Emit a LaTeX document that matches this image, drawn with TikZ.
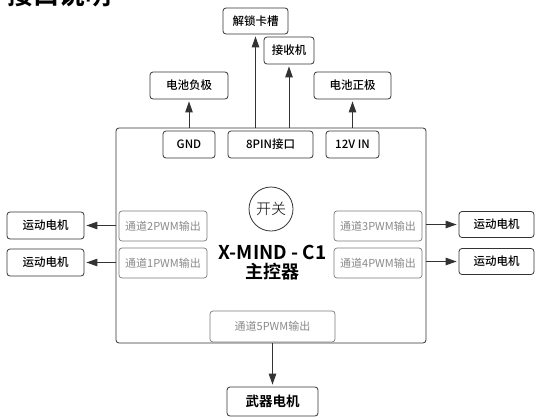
\documentclass[tikz,border=0pt]{standalone}
\usepackage{fontspec}
\setmainfont{Noto Sans CJK SC}[BoldFont={Noto Sans CJK SC Bold}]
\newfontface\medfont{Noto Sans CJK SC Medium}
\newfontface\lightfont{Noto Sans CJK SC Light}
\usetikzlibrary{arrows.meta}
\definecolor{ink}{HTML}{333333}
\definecolor{pwmgray}{HTML}{8A8A8A}
\definecolor{pwmline}{HTML}{7A7A7A}
\tikzset{
  box/.style={draw=ink, line width=0.8pt, rounded corners=3pt, fill=white, text=black,
    inner sep=0pt, font=\fontsize{11.5}{12}\selectfont\medfont},
  pwm/.style={draw=pwmline, line width=0.7pt, rounded corners=3pt, fill=white, text=pwmgray,
    inner sep=0pt, font=\fontsize{11}{12}\selectfont},
  arr/.style={draw=ink, line width=1pt, -{Triangle[length=11pt,width=7.5pt]}, shorten >=2pt},
}
\begin{document}
\begin{tikzpicture}[x=1pt,y=-1pt]
\useasboundingbox (0,0) rectangle (535,418);
% title (cut off at top, as in the reference)
\node[anchor=base west, inner sep=0pt, font=\fontsize{26}{28}\selectfont\bfseries] (title) at (7,4) {接口说明};
% main board
\node[draw=ink, line width=0.8pt, rounded corners=3pt, minimum width=310pt, minimum height=215pt, inner sep=0pt] (main) at (271,235.5) {};
% connectors on top edge
\node[box, minimum width=52pt, minimum height=27pt] (gnd) at (189,144.5) {GND};
\node[box, minimum width=85pt, minimum height=27pt] (pin8) at (270.5,144.5) {8PIN接口};
\node[box, minimum width=53pt, minimum height=27pt] (v12) at (352.5,144.5) {12V IN};
% top targets
\node[box, minimum width=78pt, minimum height=27pt] (neg) at (189,85.5) {电池负极};
\node[box, minimum width=65pt, minimum height=26pt] (unlock) at (255.5,21) {解锁卡槽};
\node[box, minimum width=50pt, minimum height=27pt] (recv) at (289,50.5) {接收机};
\node[box, minimum width=77pt, minimum height=27pt] (pos) at (352.5,85.5) {电池正极};
% PWM channels
\node[pwm, minimum width=88pt, minimum height=30pt] (ch2) at (163,226) {通道2PWM输出};
\node[pwm, minimum width=88pt, minimum height=30pt] (ch1) at (163,263) {通道1PWM输出};
\node[pwm, minimum width=88pt, minimum height=30pt] (ch3) at (378,226) {通道3PWM输出};
\node[pwm, minimum width=88pt, minimum height=30pt] (ch4) at (378,263) {通道4PWM输出};
\node[pwm, minimum width=125pt, minimum height=31pt] (ch5) at (272.5,326.5) {通道5PWM输出};
% motors
\node[box, minimum width=77pt, minimum height=27pt] (m2) at (45.5,225.5) {运动电机};
\node[box, minimum width=77pt, minimum height=27pt] (m1) at (45.5,262.5) {运动电机};
\node[box, minimum width=75pt, minimum height=26pt] (m3) at (496.5,224.5) {运动电机};
\node[box, minimum width=75pt, minimum height=26pt] (m4) at (496.5,261.5) {运动电机};
\node[box, minimum width=91pt, minimum height=29pt, font=\fontsize{13.5}{14}\selectfont\bfseries] (weapon) at (272.5,401.5) {武器电机};
% centre
\node[circle, draw=ink, line width=0.8pt, minimum size=44pt, inner sep=0pt, font=\fontsize{15}{16}\selectfont\lightfont] (sw) at (271,209) {开关};
\node[inner sep=0pt, font=\fontsize{19}{20}\selectfont\bfseries] (name) at (272.5,252) {X-MIND - C1};
\node[inner sep=0pt, font=\fontsize{18}{20}\selectfont\bfseries] (ctrl) at (272.5,272) {主控器};
% arrows
\draw[arr] (gnd.north |- main.north) -- (neg.south);
\draw[arr] (unlock.south |- main.north) -- (unlock.south);
\draw[arr] (recv.south |- main.north) -- (recv.south);
\draw[arr] (v12.north |- main.north) -- (pos.south);
\draw[arr] (main.west |- m2) -- (m2.east);
\draw[arr] (main.west |- m1) -- (m1.east);
\draw[arr] (main.east |- m3) -- (m3.west);
\draw[arr] (main.east |- m4) -- (m4.west);
\draw[arr] (main.south -| weapon) -- (weapon.north);
\end{tikzpicture}
\end{document}
